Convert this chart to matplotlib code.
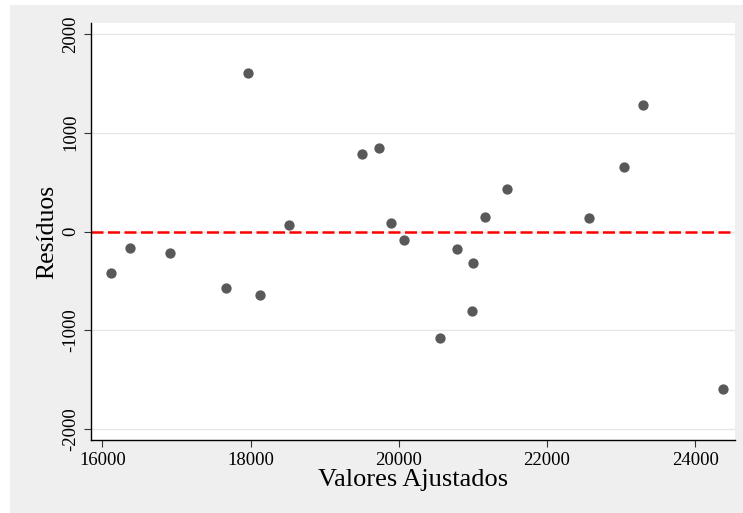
import matplotlib
matplotlib.use('Agg')
import matplotlib.pyplot as plt
from matplotlib.patches import Rectangle

# Fitted values vs residuals
fitted = [16110, 16368, 16910, 17665, 17962, 18125, 18518, 19505, 19735,
          19898, 20073, 20560, 20778, 20994, 20988, 21157, 21455, 22565,
          23038, 23295, 24378]
residuals = [-425, -172, -213, -567, 1609, -638, 61, 789, 840,
             91, -91, -1073, -182, -314, -800, 142, 435, 132,
             648, 1285, -1589]
x_ticks = [16000, 18000, 20000, 22000, 24000]
y_ticks = [-2000, -1000, 0, 1000, 2000]

plt.rcParams['font.family'] = ['Liberation Serif', 'DejaVu Serif']

W, H = 743, 513
fig = plt.figure(figsize=(W / 100, H / 100), dpi=100)
fig.patch.set_facecolor('white')

# Stata-like gray background
fig.patches.append(Rectangle((10 / W, 0), 1 - 10 / W, 1 - 5 / H,
                             transform=fig.transFigure, facecolor='#efefef',
                             edgecolor='none', zorder=-10))

ax = fig.add_axes([91 / W, 1 - 440 / H, (735 - 91) / W, (440 - 23) / H])
ax.set_zorder(1)
ax.set_facecolor('white')

ax.scatter(fitted, residuals, s=55, color='#595959', zorder=3, linewidths=0)
ax.axhline(0, color='#ff0000', linestyle=(0, (4.8, 1.8)), linewidth=1.8, zorder=2)

ax.set_xlim(15846, 24536)
ax.set_ylim(-2110, 2110)
ax.set_xticks(x_ticks)
ax.set_yticks(y_ticks)
ax.set_yticklabels([str(v) for v in y_ticks], rotation=90, va='center')
ax.tick_params(axis='both', labelsize=13.5, length=5, color='#333333')
ax.grid(axis='y', color='#e6e6e6', linewidth=1)
ax.set_axisbelow(True)

for s in ['top', 'right']:
    ax.spines[s].set_visible(False)
for s in ['left', 'bottom']:
    ax.spines[s].set_color('black')
    ax.spines[s].set_linewidth(1)

ax.set_xlabel('Valores Ajustados', fontsize=19, labelpad=0)
ax.set_ylabel('Resíduos', fontsize=18.5, labelpad=3)

fig.savefig('out.png', dpi=100)
